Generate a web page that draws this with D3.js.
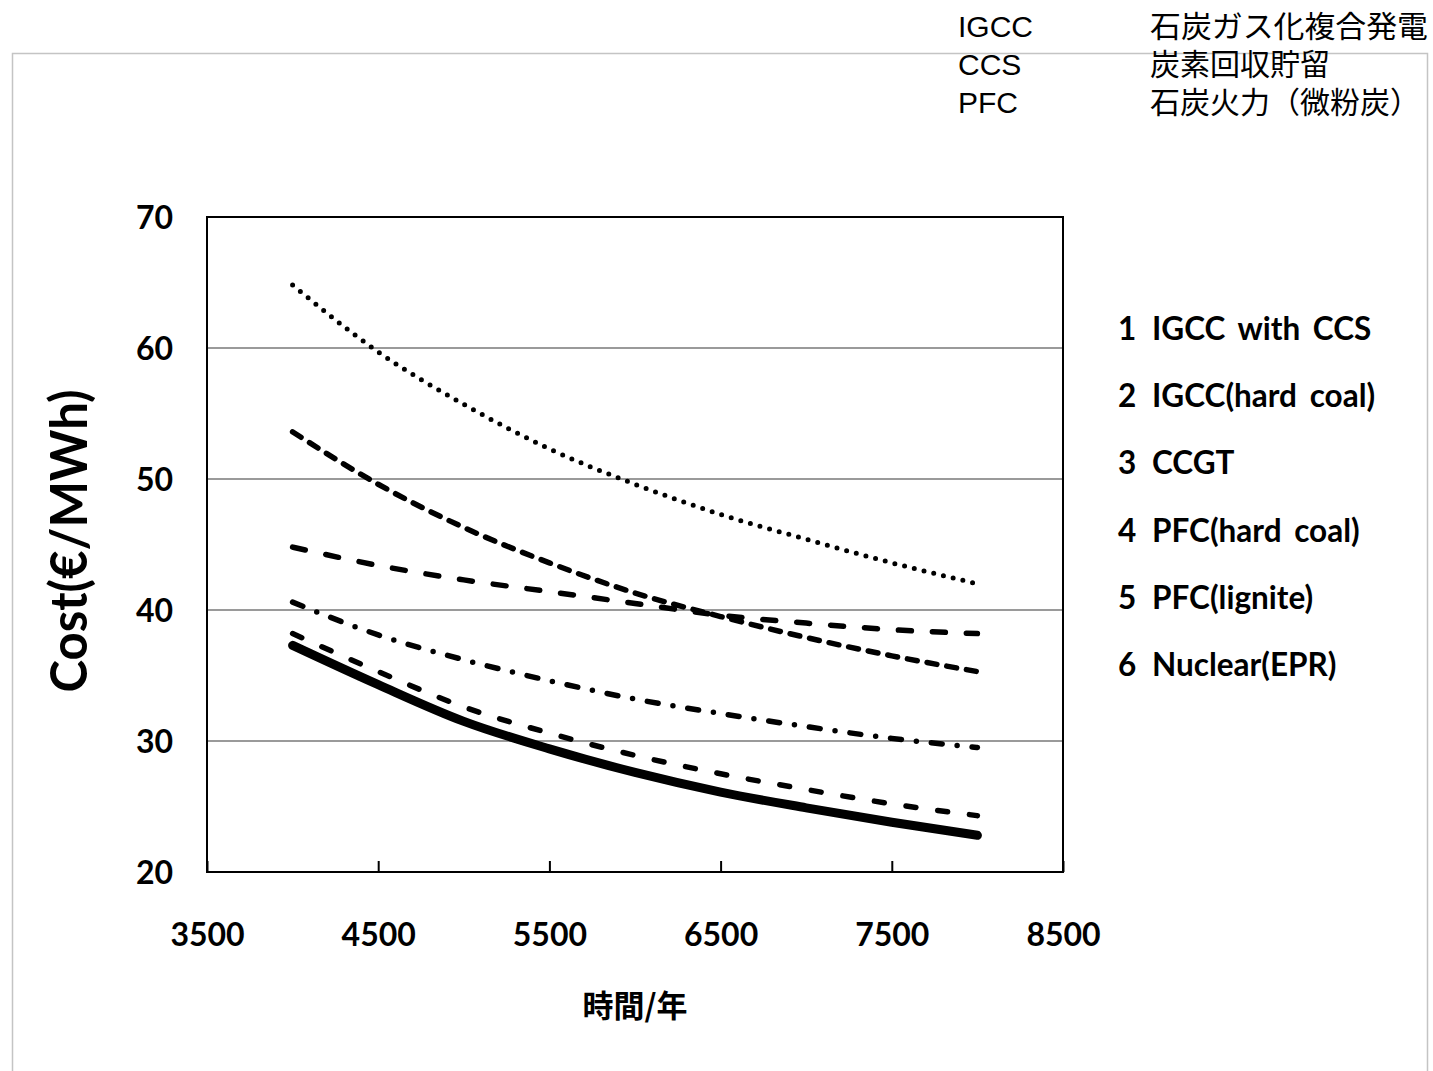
<!DOCTYPE html>
<html>
<head>
<meta charset="utf-8">
<script src="https://cdn.jsdelivr.net/npm/d3@7"></script>
<style>
    body { margin: 0; background: #fff; }
    svg { display: block; }
</style>
</head>
<body>
<div id="app"></div>
<script>
// operating hours per year (x values)
var hours = [4000, 4500, 5000, 5500, 6000, 6500, 7000, 7500, 8000];

// cost in €/MWh
var igccCcs = [64.8, 59.7, 55.7, 52.3, 49.6, 47.3, 45.4, 43.6, 42.0];
var igccHardCoal = [53.6, 49.6, 46.3, 43.6, 41.3, 39.5, 37.9, 36.5, 35.3];
var ccgt = [44.8, 43.4, 42.3, 41.4, 40.5, 39.6, 39.0, 38.5, 38.2];
var pfcHardCoal = [40.6, 38.1, 36.2, 34.6, 33.2, 32.1, 31.1, 30.2, 29.5];
var pfcLignite = [38.2, 35.3, 32.6, 30.6, 28.9, 27.5, 26.3, 25.2, 24.3];
var nuclear = [37.3, 34.3, 31.5, 29.4, 27.6, 26.1, 24.9, 23.8, 22.8];

var legendNumbers = ["1", "2", "3", "4", "5", "6"];
var legendLabels = ["IGCC with CCS", "IGCC(hard coal)", "CCGT", "PFC(hard coal)", "PFC(lignite)", "Nuclear(EPR)"];

var xTicks = [3500, 4500, 5500, 6500, 7500, 8500];
var yTicks = [20, 30, 40, 50, 60, 70];

// abbreviations note (top right)
var noteAbbr = ["IGCC", "CCS", "PFC"];
var noteJa = ["石炭ガス化複合発電", "炭素回収貯留", "石炭火力（微粉炭）"];

var options = {
    width: 1433,
    height: 1071,
    plotLeft: 207,
    plotRight: 1063,
    plotTop: 217,
    plotBottom: 872
};

// line styles, same order as the series
// round caps grow each dash by the stroke width, so dashes are given shorter
var lineStyles = [
    { dash: "0 10", width: 5 },          // dotted
    { dash: "10 10", width: 5.5 },       // short dash
    { dash: "13 21", width: 5.5 },       // long dash
    { dash: "11 15 0 15", width: 5.5 },  // dash dot
    { dash: "10 22", width: 5.5 },       // dash
    { dash: null, width: 9 }             // solid
];

function drawChart() {
    var series = [igccCcs, igccHardCoal, ccgt, pfcHardCoal, pfcLignite, nuclear];

    var svg = d3.select("#app")
        .append("svg")
        .attr("width", options.width)
        .attr("height", options.height);

    svg.append("rect")
        .attr("width", options.width)
        .attr("height", options.height)
        .attr("fill", "#fff");

    // outer light grey frame (runs off the bottom)
    svg.append("path")
        .attr("d", "M12.5," + options.height + "V53.5H1427.5V" + options.height)
        .attr("fill", "none")
        .attr("stroke", "#c4c4c4")
        .attr("stroke-width", 1.5);

    var x = d3.scaleLinear()
        .domain([3500, 8500])
        .range([options.plotLeft, options.plotRight]);

    var y = d3.scaleLinear()
        .domain([20, 70])
        .range([options.plotBottom, options.plotTop]);

    // horizontal gridlines
    svg.append("g")
        .selectAll("line")
        .data(yTicks.slice(1, -1))
        .enter()
        .append("line")
        .attr("x1", options.plotLeft)
        .attr("x2", options.plotRight)
        .attr("y1", function (d) { return y(d); })
        .attr("y2", function (d) { return y(d); })
        .attr("stroke", "#9a9a9a")
        .attr("stroke-width", 2);

    // x axis, ticks pointing inward
    var xAxis = d3.axisBottom(x)
        .tickValues(xTicks)
        .tickSizeInner(-11)
        .tickSizeOuter(0)
        .tickPadding(51)
        .tickFormat(d3.format("d"));

    var xAxisGroup = svg.append("g")
        .attr("transform", "translate(0," + options.plotBottom + ")")
        .call(xAxis);
    xAxisGroup.select(".domain").remove();
    xAxisGroup.selectAll("line").attr("stroke", "#000").attr("stroke-width", 2);
    xAxisGroup.selectAll("text")
        .attr("font-family", "Lato, sans-serif")
        .attr("font-weight", "bold")
        .attr("font-size", 32)
        .attr("fill", "#000");

    // y axis, labels only
    var yAxis = d3.axisLeft(y)
        .tickValues(yTicks)
        .tickSize(0)
        .tickPadding(34);

    var yAxisGroup = svg.append("g")
        .attr("transform", "translate(" + options.plotLeft + ",0)")
        .call(yAxis);
    yAxisGroup.select(".domain").remove();
    yAxisGroup.selectAll("text")
        .attr("font-family", "Lato, sans-serif")
        .attr("font-weight", "bold")
        .attr("font-size", 32)
        .attr("dy", "0.36em")
        .attr("fill", "#000");

    // plot area border
    svg.append("rect")
        .attr("x", options.plotLeft)
        .attr("y", options.plotTop)
        .attr("width", options.plotRight - options.plotLeft)
        .attr("height", options.plotBottom - options.plotTop)
        .attr("fill", "none")
        .attr("stroke", "#000")
        .attr("stroke-width", 2);

    var line = d3.line()
        .x(function (d, i) { return x(hours[i]); })
        .y(function (d) { return y(d); })
        .curve(d3.curveMonotoneX);

    svg.append("g")
        .selectAll("path")
        .data(series)
        .enter()
        .append("path")
        .attr("d", line)
        .attr("fill", "none")
        .attr("stroke", "#000")
        .attr("stroke-width", function (d, i) { return lineStyles[i].width; })
        .attr("stroke-linecap", "round")
        .attr("stroke-linejoin", "round")
        .attr("stroke-dasharray", function (d, i) { return lineStyles[i].dash; });

    // axis titles
    svg.append("text")
        .attr("transform", "translate(87,541) rotate(-90)")
        .attr("text-anchor", "middle")
        .attr("font-family", "Lato, sans-serif")
        .attr("font-weight", "bold")
        .attr("font-size", 51)
        .attr("textLength", 303)
        .attr("lengthAdjust", "spacingAndGlyphs")
        .text("Cost(€/MWh)");

    svg.append("text")
        .attr("x", 635)
        .attr("y", 1017)
        .attr("text-anchor", "middle")
        .attr("font-family", "'Noto Sans CJK JP', sans-serif")
        .attr("font-weight", "bold")
        .attr("font-size", 31)
        .text("時間/年");

    // legend at the right
    var legend = svg.append("g")
        .selectAll("g")
        .data(legendLabels)
        .enter()
        .append("g")
        .attr("transform", function (d, i) { return "translate(0," + (340 + i * 67.2) + ")"; });

    legend.append("text")
        .attr("x", 1118)
        .attr("font-family", "Lato, sans-serif")
        .attr("font-weight", "bold")
        .attr("font-size", 31.5)
        .text(function (d, i) { return legendNumbers[i]; });

    legend.append("text")
        .attr("x", 1152)
        .attr("font-family", "Lato, sans-serif")
        .attr("font-weight", "bold")
        .attr("font-size", 31.5)
        .attr("word-spacing", 5)
        .text(function (d) { return d; });

    // abbreviation note
    var note = svg.append("g")
        .selectAll("g")
        .data(noteAbbr)
        .enter()
        .append("g")
        .attr("transform", function (d, i) { return "translate(0," + (37 + i * 38) + ")"; });

    note.append("text")
        .attr("x", 958)
        .attr("font-family", "'Liberation Sans', Arial, sans-serif")
        .attr("font-size", 30)
        .text(function (d) { return d; });

    note.append("text")
        .attr("x", 1150)
        .attr("font-family", "'Noto Sans CJK JP', sans-serif")
        .attr("font-size", 30)
        .attr("textLength", function (d, i) { return i === 0 ? 278 : null; })
        .attr("lengthAdjust", "spacingAndGlyphs")
        .text(function (d, i) { return noteJa[i]; });
}

drawChart();
</script>
</body>
</html>
